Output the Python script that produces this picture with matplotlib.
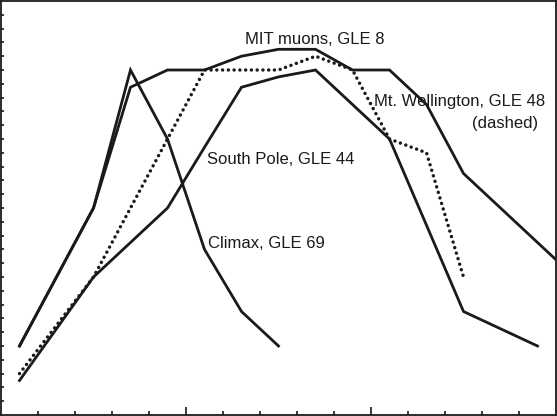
import numpy as np
import matplotlib.pyplot as plt

# bin centres along the x axis
x = np.arange(0.5, 16.0, 1.0)

# profiles
mit = [5, 10, 15, 23.75, 25, 25, 26, 26.5, 26.5, 25, 25, 22.5, 17.5, 15, 12.5, 10]
climax = [5, 10, 15, 25, 20, 12, 7.5, 5]
south_pole = [2.5, 6.25, 10, 12.5, 15, 19.4, 23.75, 24.5, 25, 22.5, 20, 13.75, 7.5, 6.25, 5]
wellington = [3, 6.5, 10, 15, 20, 25, 25, 25, 26, 25, 20, 19, 10]

labels = ["MIT muons, GLE 8", "Climax, GLE 69", "South Pole, GLE 44",
          "Mt. Wellington, GLE 48", "(dashed)"]
label_pos = [(6.59, 26.9), (5.59, 12.1), (5.57, 18.2), (10.08, 22.4), (12.73, 20.8)]

plt.rcParams['font.family'] = ['Liberation Sans', 'DejaVu Sans']

fig = plt.figure(figsize=(5.57, 4.16), dpi=100)
ax = fig.add_axes([1/557, 1/416, 555/557, 414/416])

lw = 2.0
ax.plot(x[:len(mit)], mit, color='#1a1a1a', lw=lw, solid_joinstyle='miter')
ax.plot(x[:len(climax)], climax, color='#1a1a1a', lw=lw, solid_joinstyle='miter')
ax.plot(x[:len(south_pole)], south_pole, color='#1a1a1a', lw=lw, solid_joinstyle='miter')
ax.plot(x[:len(wellington)], wellington, color='#1a1a1a', lw=2.5,
        linestyle=(0, (0.01, 1.65)), dash_capstyle='round')

for txt, (tx, ty) in zip(labels, label_pos):
    ax.text(tx, ty, txt, fontsize=12, ha='left', va='baseline', color='#1a1a1a')

ax.set_xlim(0, 15)
ax.set_ylim(0, 30)
ax.set_xticks(np.arange(1, 15))
ax.set_yticks(np.arange(1, 30))
ax.set_xticklabels([])
ax.set_yticklabels([])
ax.tick_params(axis='both', direction='in', width=1.2, color='#1a1a1a')
ax.tick_params(axis='x', length=3)
ax.tick_params(axis='y', length=2.5)
for t in ax.xaxis.get_major_ticks():
    if t.get_loc() in (5, 10):
        t.tick1line.set_markersize(5.5)
for s in ax.spines.values():
    s.set_linewidth(1.3)
    s.set_color('#1a1a1a')

fig.savefig('out.png', dpi=100)
